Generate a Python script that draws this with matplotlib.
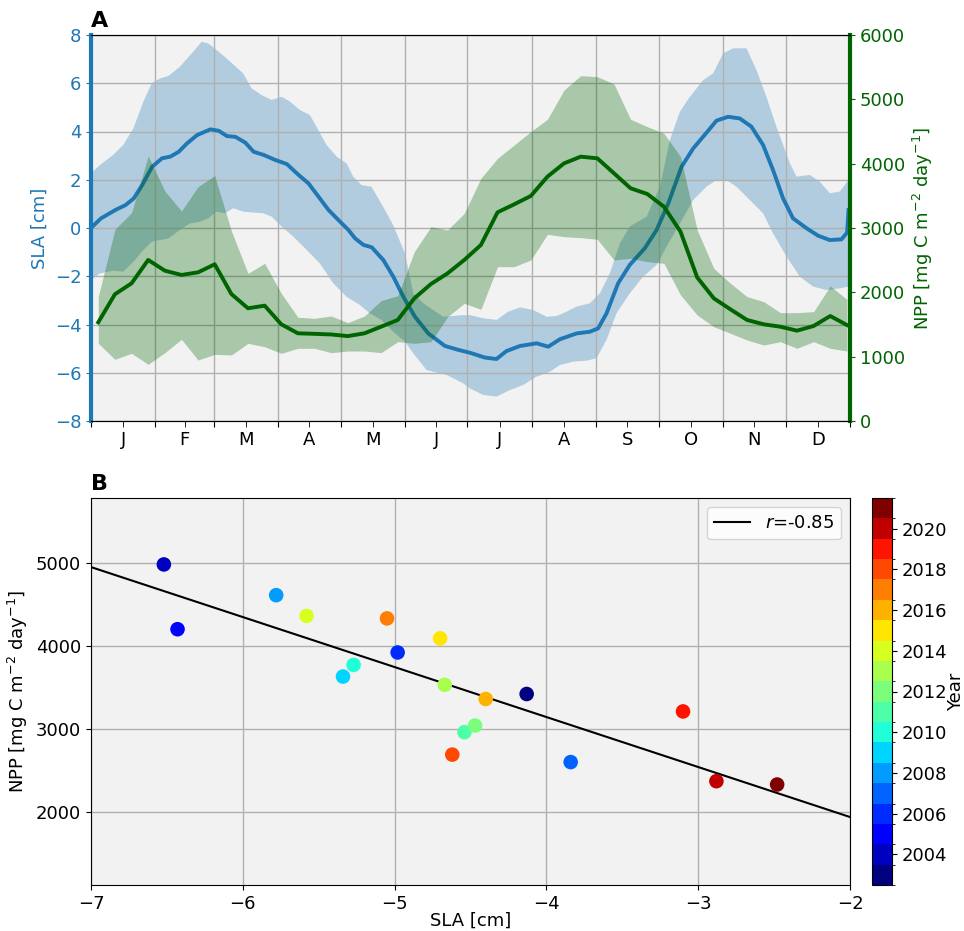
import numpy as np
import matplotlib
matplotlib.use("Agg")
import matplotlib.pyplot as plt
from matplotlib.colors import BoundaryNorm
import matplotlib.cm as cm

# ---------------- Panel A data ----------------
month_labels = ['J', 'F', 'M', 'A', 'M', 'J', 'J', 'A', 'S', 'O', 'N', 'D']
month_starts = [1, 32, 60, 91, 121, 152, 182, 213, 244, 274, 305, 335, 366]

# SLA climatology mean (day of year, cm)
sla_days = [1, 5.8, 12.8, 17.6, 21.6, 25.6, 30.4, 35.2, 39.2, 43.2, 47.2, 52, 58.4, 62.4,
            66.4, 70.4, 75.2, 79.2, 84, 89.6, 95.2, 100.8, 105.6, 110.4, 115.2, 120.8,
            124.8, 128, 132, 136, 141.6, 146.4, 151.2, 156.8, 163.2, 171.2, 177.6,
            183.2, 190.4, 196.0, 200.8, 207.3, 215.3, 220.9, 226.5, 234.5, 240.9, 244.9,
            248.9, 254.5, 260.1, 267.3, 273.0, 278.6, 285.0, 290.6, 297.0, 301.8, 307.4,
            313.0, 318.6, 324.2, 329.0, 333.8, 338.6, 345.1, 350.7, 356.3, 361.9, 364.6, 365.3]
sla_mean = [0.0, 0.40, 0.75, 0.95, 1.23, 1.78, 2.54, 2.89, 2.96, 3.16, 3.51, 3.85, 4.09, 4.03,
            3.81, 3.78, 3.54, 3.16, 3.03, 2.82, 2.65, 2.20, 1.85, 1.30, 0.75, 0.26,
            -0.08, -0.43, -0.70, -0.80, -1.33, -2.02, -2.85, -3.68, -4.37, -4.89, -5.05,
            -5.17, -5.37, -5.43, -5.10, -4.89, -4.78, -4.92, -4.61, -4.37, -4.30, -4.16,
            -3.54, -2.29, -1.53, -0.84, -0.08, 1.02, 2.54, 3.30, 3.95, 4.45, 4.61,
            4.54, 4.20, 3.44, 2.40, 1.23, 0.40, -0.01, -0.32, -0.50, -0.47, -0.19, 0.75]

# SLA upper envelope
sla_up_days = [1, 5.3, 11.7, 16.5, 21.4, 26.2, 30.2, 34.2, 38.2, 43.8, 50.2, 54.2, 57.4, 61.4,
               66.2, 74.2, 78.2, 83.0, 87.9, 92.7, 96.7, 101.5, 106.3, 110.3, 114.3, 119.1,
               123.9, 127.1, 131.1, 135.9, 141.5, 146.3, 152.0, 156.0, 160.8, 170.4, 180.0,
               183.2, 189.6, 196.0, 201.6, 207.3, 213.7, 220.1, 224.9, 229.7, 234.5, 240.9,
               245.7, 250.5, 255.3, 260.1, 268.2, 274.6, 279.4, 284.2, 289.0, 295.4, 300.2,
               305.0, 309.8, 316.2, 321.0, 325.8, 330.6, 337.1, 340.3, 346.7, 351.5, 356.3,
               361.1, 365.3]
sla_upper = [2.27, 2.61, 3.03, 3.44, 4.13, 5.24, 6.00, 6.20, 6.30, 6.69, 7.31, 7.72, 7.65, 7.38,
             7.03, 6.41, 5.79, 5.51, 5.31, 5.44, 5.24, 4.89, 4.68, 4.06, 3.44, 2.96,
             2.68, 2.13, 1.78, 1.71, 0.88, 0.12, -1.05, -2.71, -3.12, -3.68, -3.61,
             -3.61, -3.74, -3.81, -3.47, -3.29, -3.40, -3.68, -3.65, -3.47, -3.26, -3.12,
             -2.71, -1.88, -0.64, 0.06, 0.47, 1.71, 3.65, 4.82, 5.44, 6.13, 6.41,
             7.24, 7.45, 7.45, 6.55, 5.44, 4.20, 2.68, 2.13, 2.20, 1.92, 1.44,
             1.51, 1.99]

# SLA lower envelope
sla_lo_days = [1, 5.3, 11.7, 16.5, 21.4, 26.2, 30.2, 34.2, 38.2, 43.8, 48.6, 53.4, 57.4, 61.4,
               65.4, 69.4, 74.2, 79.0, 83.8, 87.9, 92.7, 98.3, 104.7, 111.1, 117.5, 123.9,
               130.3, 135.1, 140.7, 146.3, 152.0, 156.0, 162.4, 172.0, 180.0,
               183.2, 189.6, 196.0, 202.4, 208.8, 215.3, 221.7, 226.5, 232.9, 239.3, 244.1,
               248.9, 253.7, 260.1, 266.5, 273.0, 277.8, 284.2, 290.6, 297.0, 301.8, 306.6,
               311.4, 317.8, 324.2, 329.0, 335.5, 341.9, 348.3, 354.7, 361.1, 365.3]
sla_lower = [-2.16, -1.88, -1.77, -1.81, -1.40, -0.91, -0.57, -0.50, -0.43, -0.08, 0.19, 0.26, 0.40, 0.68,
             0.61, 0.82, 0.68, 0.64, 0.61, 0.47, 0.06, -0.36, -0.91, -1.47, -2.29, -2.85,
             -3.19, -3.54, -3.81, -4.30, -4.71, -5.20, -5.89, -6.09, -6.44,
             -6.65, -6.92, -6.99, -6.72, -6.51, -6.16, -5.96, -5.68, -5.54, -5.50, -5.40,
             -4.64, -3.54, -2.71, -2.02, -1.53, -0.77, 0.19, 1.16, 1.71, 1.99, 1.99,
             1.71, 1.16, 0.61, -0.22, -1.19, -2.02, -2.43, -2.57, -2.50, -2.43]

# NPP 8-day composites (centre day of year)
npp_days = [4.5, 12.5, 20.5, 28.5, 36.5, 44.5, 52.5, 60.5, 68.5, 76.5, 84.5, 92.5,
            100.5, 108.5, 116.5, 124.5, 132.5, 140.5, 148.5, 156.5, 164.5, 172.5, 180.5,
            188.5, 196.5, 204.5, 212.5, 220.5, 228.5, 236.5, 244.5, 252.5, 260.5, 268.5,
            276.5, 284.5, 292.5, 300.5, 308.5, 316.5, 324.5, 332.5, 340.5, 348.5, 356.5, 364.5]
npp_mean = [1534, 1970, 2140, 2503, 2337, 2270, 2311, 2436, 1974, 1752, 1793, 1503,
            1363, 1355, 1345, 1320, 1363, 1466, 1570, 1907, 2130, 2296, 2503,
            2736, 3244, 3368, 3498, 3798, 4005, 4109, 4083, 3850, 3617, 3529,
            3332, 2943, 2233, 1907, 1736, 1570, 1503, 1466, 1404, 1477, 1632, 1492]
npp_upper = [1933, 2979, 3238, 4119, 3575, 3264, 3643, 3814, 2954, 2295, 2451, 1984,
             1612, 1596, 1632, 1529, 1632, 1871, 1948, 2632, 3021, 2969, 3228,
             3772, 4083, 4290, 4498, 4689, 5145, 5368, 5352, 5239, 4689, 4575,
             4472, 4109, 2969, 2373, 2140, 1933, 1855, 1684, 1684, 1700, 2099, 1891]
npp_lower = [1207, 959, 1052, 881, 1062, 1270, 948, 1036, 1026, 1207, 1155, 1052,
             1130, 1130, 1062, 1088, 1088, 1062, 1233, 1207, 1233, 1622, 1829,
             1736, 2399, 2399, 2503, 2902, 2865, 2850, 2824, 2503, 2529, 2477,
             2451, 1959, 1648, 1466, 1363, 1259, 1181, 1233, 1130, 1233, 1130, 1088]

# ---------------- Panel B data ----------------
years = [2003, 2004, 2005, 2006, 2007, 2008, 2009, 2010, 2011, 2012, 2013,
         2014, 2015, 2016, 2017, 2018, 2019, 2020, 2021]
sla_year = [-4.13, -6.52, -6.43, -4.98, -3.84, -5.78, -5.34, -5.27, -4.54, -4.47, -4.67,
            -5.58, -4.70, -4.40, -5.05, -4.62, -3.10, -2.88, -2.48]
npp_year = [3420, 4980, 4200, 3920, 2600, 4610, 3630, 3770, 2960, 3040, 3530,
            4360, 4090, 3360, 4330, 2690, 3210, 2370, 2330]
r_label = '$r$=-0.85'

# ---------------- Plot ----------------
plt.rcParams['font.family'] = ['DejaVu Sans']
plt.rcParams['font.size'] = 13

fig = plt.figure(figsize=(9.64, 9.31), dpi=100)
bg = '#f2f2f2'
blue = '#1f77b4'
green = 'darkgreen'

ax1 = fig.add_axes([91/964, 1-421/931, 759/964, 386/931])
ax1.set_facecolor(bg)
poly_x = list(sla_up_days) + list(sla_lo_days[::-1])
poly_y = list(sla_upper) + list(sla_lower[::-1])
ax1.fill(poly_x, poly_y, color=blue, alpha=0.3, lw=0)
ax1.plot(sla_days, sla_mean, color=blue, lw=2.8)
ax1.set_ylim(-8, 8)
ax1.set_yticks(np.arange(-8, 9, 2))
ax1.set_xlim(1, 366)
ax1.set_xticks(month_starts)
ax1.set_xticklabels([])
mids = [(month_starts[i] + month_starts[i+1]) / 2 for i in range(12)]
ax1.set_xticks(mids, minor=True)
ax1.set_xticklabels(month_labels, minor=True)
ax1.tick_params(axis='x', which='both', length=4)
ax1.grid(True, which='major', color='#b0b0b0', lw=1)
ax1.set_ylabel('SLA [cm]', color=blue)
ax1.tick_params(axis='y', colors=blue)
ax1.spines['left'].set_color(blue)
ax1.spines['left'].set_linewidth(3)

ax2 = ax1.twinx()
ax2.fill_between(npp_days, npp_lower, npp_upper, color=green, alpha=0.3, lw=0)
ax2.plot(npp_days, npp_mean, color=green, lw=2.8)
ax2.set_ylim(0, 6000)
ax2.set_yticks(np.arange(0, 6001, 1000))
ax2.set_ylabel('NPP [mg C m$^{-2}$ day$^{-1}$]', color=green)
ax2.tick_params(axis='y', colors=green)
ax2.spines['right'].set_color(green)
ax2.spines['right'].set_linewidth(3)
ax2.spines['left'].set_visible(False)
ax1.spines['right'].set_visible(False)
ax1.text(0.0, 1.01, 'A', transform=ax1.transAxes, fontsize=16, fontweight='bold',
         ha='left', va='bottom')

# ---------------- Panel B ----------------
ax3 = fig.add_axes([91/964, 1-885/931, 759/964, 387/931])
ax3.set_facecolor(bg)
ax3.set_axisbelow(True)
ax3.grid(True, color='#b0b0b0', lw=1)
cmap = plt.get_cmap('jet', len(years))
bounds = np.arange(years[0] - 0.5, years[-1] + 1.5, 1)
norm = BoundaryNorm(bounds, cmap.N)
ax3.scatter(sla_year, npp_year, c=years, cmap=cmap, norm=norm, s=110,
            edgecolors='none', zorder=3)
slope, intercept = np.polyfit(sla_year, npp_year, 1)
xl = np.array([-7, -2])
ax3.plot(xl, slope * xl + intercept, color='black', lw=1.5, label=r_label, zorder=2)
ax3.set_xlim(-7, -2)
ax3.set_ylim(1120, 5780)
ax3.set_yticks([2000, 3000, 4000, 5000])
ax3.set_xlabel('SLA [cm]', labelpad=-1)
ax3.set_ylabel('NPP [mg C m$^{-2}$ day$^{-1}$]')
ax3.legend(loc='upper right', fontsize=13)
ax3.text(0.0, 1.01, 'B', transform=ax3.transAxes, fontsize=16, fontweight='bold',
         ha='left', va='bottom')

cax = fig.add_axes([872/964, 1-885/931, 20/964, 387/931])
cb = fig.colorbar(cm.ScalarMappable(norm=norm, cmap=cmap), cax=cax,
                  ticks=np.arange(2004, 2021, 2))
cb.set_label('Year', labelpad=0)

fig.savefig('out.png', dpi=100)
